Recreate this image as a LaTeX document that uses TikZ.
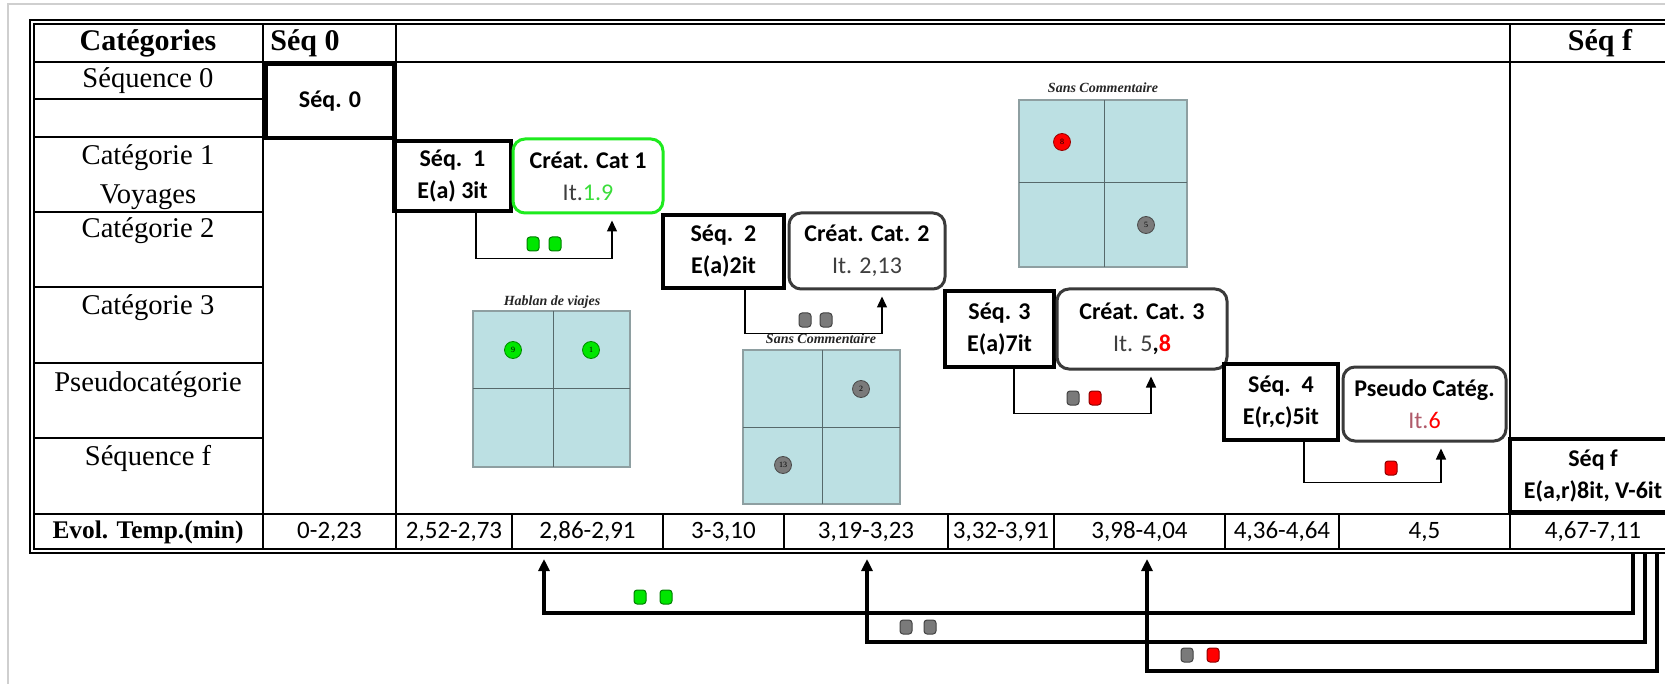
\documentclass[tikz,border=0pt]{standalone}
\usepackage{fontspec}
\setmainfont{Liberation Serif}
\newfontfamily\calib{Carlito}
\usetikzlibrary{arrows.meta}
\definecolor{gridfill}{HTML}{BCE0E3}
\definecolor{gridedge}{HTML}{8E9FA1}
\definecolor{gridline}{HTML}{56696B}
\definecolor{brightgreen}{HTML}{00E600}
\definecolor{textgreen}{HTML}{3ADD3A}
\definecolor{boxgreen}{HTML}{1EEB1E}
\definecolor{dotgray}{HTML}{7A7A7A}
\definecolor{dotred}{HTML}{FF0000}
\definecolor{roundedge}{HTML}{3A3A3A}
\definecolor{ittext}{HTML}{3E3E3E}
\definecolor{itpink}{HTML}{B05A6A}
\definecolor{framegray}{HTML}{CFCFCF}
\newcommand\boxfont{\calib\bfseries\fontsize{12}{16}\selectfont}
\tikzset{
  tline/.style={line width=0.7pt},
  dline/.style={line width=0.55pt},
  seqbox/.style={draw, line width=1.6pt, align=center, inner sep=0pt, font=\boxfont},
  catbox/.style={draw=roundedge, line width=1.5pt, rounded corners=6pt, align=center, inner sep=0pt, font=\boxfont},
  rowlabel/.style={font=\fontsize{14.3}{19.5}\selectfont, align=center, inner sep=0pt},
  hdr/.style={font=\bfseries\fontsize{15}{18}\selectfont, inner sep=0pt},
  evol/.style={font=\bfseries\fontsize{12.7}{15}\selectfont, inner sep=0pt},
  num/.style={font=\calib\fontsize{12.5}{15}\selectfont, inner sep=0pt},
  conn/.style={line width=0.7pt, -{Triangle[length=5.5pt,width=5pt]}, shorten >=3pt},
  bigconn/.style={line width=2pt, -{Triangle[length=6pt,width=5.5pt]}},
  sq/.style={draw=#1!55!black, fill=#1, rounded corners=1.5pt, minimum width=6pt, minimum height=7pt, inner sep=0pt, line width=0.5pt},
  dot/.style={circle, draw=#1!60!black, fill=#1, minimum size=8.5pt, inner sep=0pt, font=\fontsize{4}{4.5}\selectfont, line width=0.4pt},
  gridtitle/.style={font=\bfseries\itshape\fontsize{7}{8}\selectfont, text=black!85, inner sep=0pt},
  gridbox/.style={fill=gridfill, draw=gridedge, line width=0.6pt},
  gridcross/.style={draw=gridline, line width=0.5pt}
}
\begin{document}
\begin{tikzpicture}[x=0.5pt,y=-0.5pt]
\useasboundingbox (0,0) rectangle (1665,684);
\clip (0,0) rectangle (1665,684);
\fill[white] (0,0) rectangle (1665,684);
% page frame
\draw[framegray, line width=1pt] (8,690) -- (8,4) -- (1670,4);

% table borders
\draw[dline] (30,20) rectangle (1700,553);
\draw[dline] (34,24) rectangle (1696,549);
\draw[tline] (34,62) -- (1700,62);
\draw[tline] (34,514) -- (1700,514);
\foreach \y in {99,137,212,287,363,438} \draw[tline] (34,\y) -- (263,\y);
\foreach \x in {263,396,1510} \draw[tline] (\x,24) -- (\x,549);
\foreach \x in {512,663,784,948,1054,1225,1339} \draw[tline] (\x,514) -- (\x,549);

% header
\node[hdr] (hcat) at (148,43) {Catégories};
\node[hdr, anchor=west] (hs0) at (270,43) {Séq 0};
\node[hdr] (hsf) at (1600,43) {Séq f};

% row labels
\node[rowlabel] (r0) at (148,81) {Séquence 0};
\node[rowlabel] (r1) at (148,177) {Catégorie 1\\Voyages};
\node[rowlabel] (r2) at (148,231) {Catégorie 2};
\node[rowlabel] (r3) at (148,308) {Catégorie 3};
\node[rowlabel] (rp) at (148,385) {Pseudocatégorie};
\node[rowlabel] (rf) at (148,458) {Séquence f};

% time row
\node[evol] (t0) at (148,532) {Evol. Temp.(min)};
\node[num] (t1) at (329.5,532) {0-2,23};
\node[num] (t2) at (454,532) {2,52-2,73};
\node[num] (t3) at (587.5,532) {2,86-2,91};
\node[num] (t4) at (723.5,532) {3-3,10};
\node[num] (t5) at (866,532) {3,19-3,23};
\node[num] (t6) at (1001,532) {3,32-3,91};
\node[num] (t7) at (1139.5,532) {3,98-4,04};
\node[num] (t8) at (1282,532) {4,36-4,64};
\node[num] (t9) at (1424.5,532) {4,5};
\node[num] (t10) at (1593,532) {4,67-7,11};

% mini grids
\node[gridtitle] (g1t) at (552,302) {Hablan de viajes};
\draw[gridbox] (473,311) rectangle (630,467);
\draw[gridcross] (553,311) -- (553,467) (473,388) -- (630,388);
\node[dot=brightgreen] (d9) at (513,350) {9};
\node[dot=brightgreen] (d1) at (591,350) {1};

\node[gridtitle] (g2t) at (821,339) {Sans Commentaire};
\draw[gridbox] (743,350) rectangle (900,504);
\draw[gridcross] (822,350) -- (822,504) (743,427) -- (900,427);
\node[dot=dotgray] (d2) at (861,389) {2};
\node[dot=dotgray] (d13) at (783,465) {13};

\node[gridtitle] (g3t) at (1103,88) {Sans Commentaire};
\draw[gridbox] (1019,100) rectangle (1187,267);
\draw[gridcross] (1104,100) -- (1104,267) (1019,183) -- (1187,183);
\node[dot=dotred] (d8) at (1062,142) {8};
\node[dot=dotgray] (d5) at (1146,225) {5};

% boxes
\node[seqbox, minimum width=64pt, minimum height=37pt] (s0) at (330,101) {Séq. 0};
\node[seqbox, minimum width=58.5pt, minimum height=35pt] (s1) at (452.5,176) {Séq.~~1\\E(a) 3it};
\node[catbox, draw=boxgreen, minimum width=75pt, minimum height=37pt] (c1) at (588,176) {Créat. Cat 1\\{\mdseries\color{ittext}It.}{\mdseries\color{textgreen}1.9}};
\node[seqbox, minimum width=60.5pt, minimum height=36.5pt] (s2) at (723.5,251.5) {Séq.~~2\\E(a)2it};
\node[catbox, minimum width=78pt, minimum height=38pt] (c2) at (867,251) {Créat. Cat. 2\\{\mdseries\color{ittext}It. 2,13}};
\node[seqbox, minimum width=54.5pt, minimum height=38pt] (s3) at (999.5,329) {Séq. 3\\E(a)7it};
\node[catbox, minimum width=85pt, minimum height=40pt] (c3) at (1142,329) {Créat. Cat. 3\\{\mdseries\color{ittext}It. 5}{,}{\color{dotred}8}};
\node[seqbox, minimum width=57pt, minimum height=38pt] (s4) at (1281,402) {Séq.~~4\\E(r,c)5it};
\node[catbox, minimum width=81.5pt, minimum height=37pt] (pc) at (1424.5,404) {Pseudo Catég.\\{\mdseries\color{itpink}It.}{\mdseries\color{dotred}6}};
\node[seqbox, minimum width=83pt, minimum height=36.5pt] (sf) at (1593,475.5) {Séq f\\E(a,r)8it, V-6it};

% small connectors
\draw[conn] ([xshift=11.75pt]s1.south) -- ++(0,46) -| ([xshift=12pt]c1.south);
\draw[conn] ([xshift=10.75pt]s2.south) -- ++(0,44) -| ([xshift=7.5pt]c2.south);
\draw[conn] ([xshift=7.25pt]s3.south) -- ++(0,45) -| ([xshift=4.5pt]c3.south);
\draw[conn] ([xshift=11.5pt]s4.south) -- ++(0,41) -| ([xshift=8.25pt]pc.south);

\node[sq=brightgreen] (q1a) at (533,244) {};
\node[sq=brightgreen] (q1b) at (555,244) {};
\node[sq=dotgray] (q2a) at (805,320) {};
\node[sq=dotgray] (q2b) at (826,320) {};
\node[sq=dotgray] (q3a) at (1073,398) {};
\node[sq=dotred] (q3b) at (1095,398) {};
\node[sq=dotred] (q4a) at (1391,468) {};

% bottom connectors
\coordinate (gs) at (1633,553);
\coordinate (ys) at (1645,553);
\coordinate (rs) at (1657,553);
\coordinate (ge) at (544,559);
\coordinate (ye) at (867,559);
\coordinate (re) at (1147,559);
\draw[bigconn] (gs) -- ++(0,60) -| (ge);
\draw[bigconn] (ys) -- ++(0,89) -| (ye);
\draw[bigconn] (rs) -- ++(0,118) -| (re);

\node[sq=brightgreen] (b1a) at (640,597) {};
\node[sq=brightgreen] (b1b) at (666,597) {};
\node[sq=dotgray] (b2a) at (906,627) {};
\node[sq=dotgray] (b2b) at (930,627) {};
\node[sq=dotgray] (b3a) at (1187,655) {};
\node[sq=dotred] (b3b) at (1213,655) {};
\end{tikzpicture}
\end{document}
